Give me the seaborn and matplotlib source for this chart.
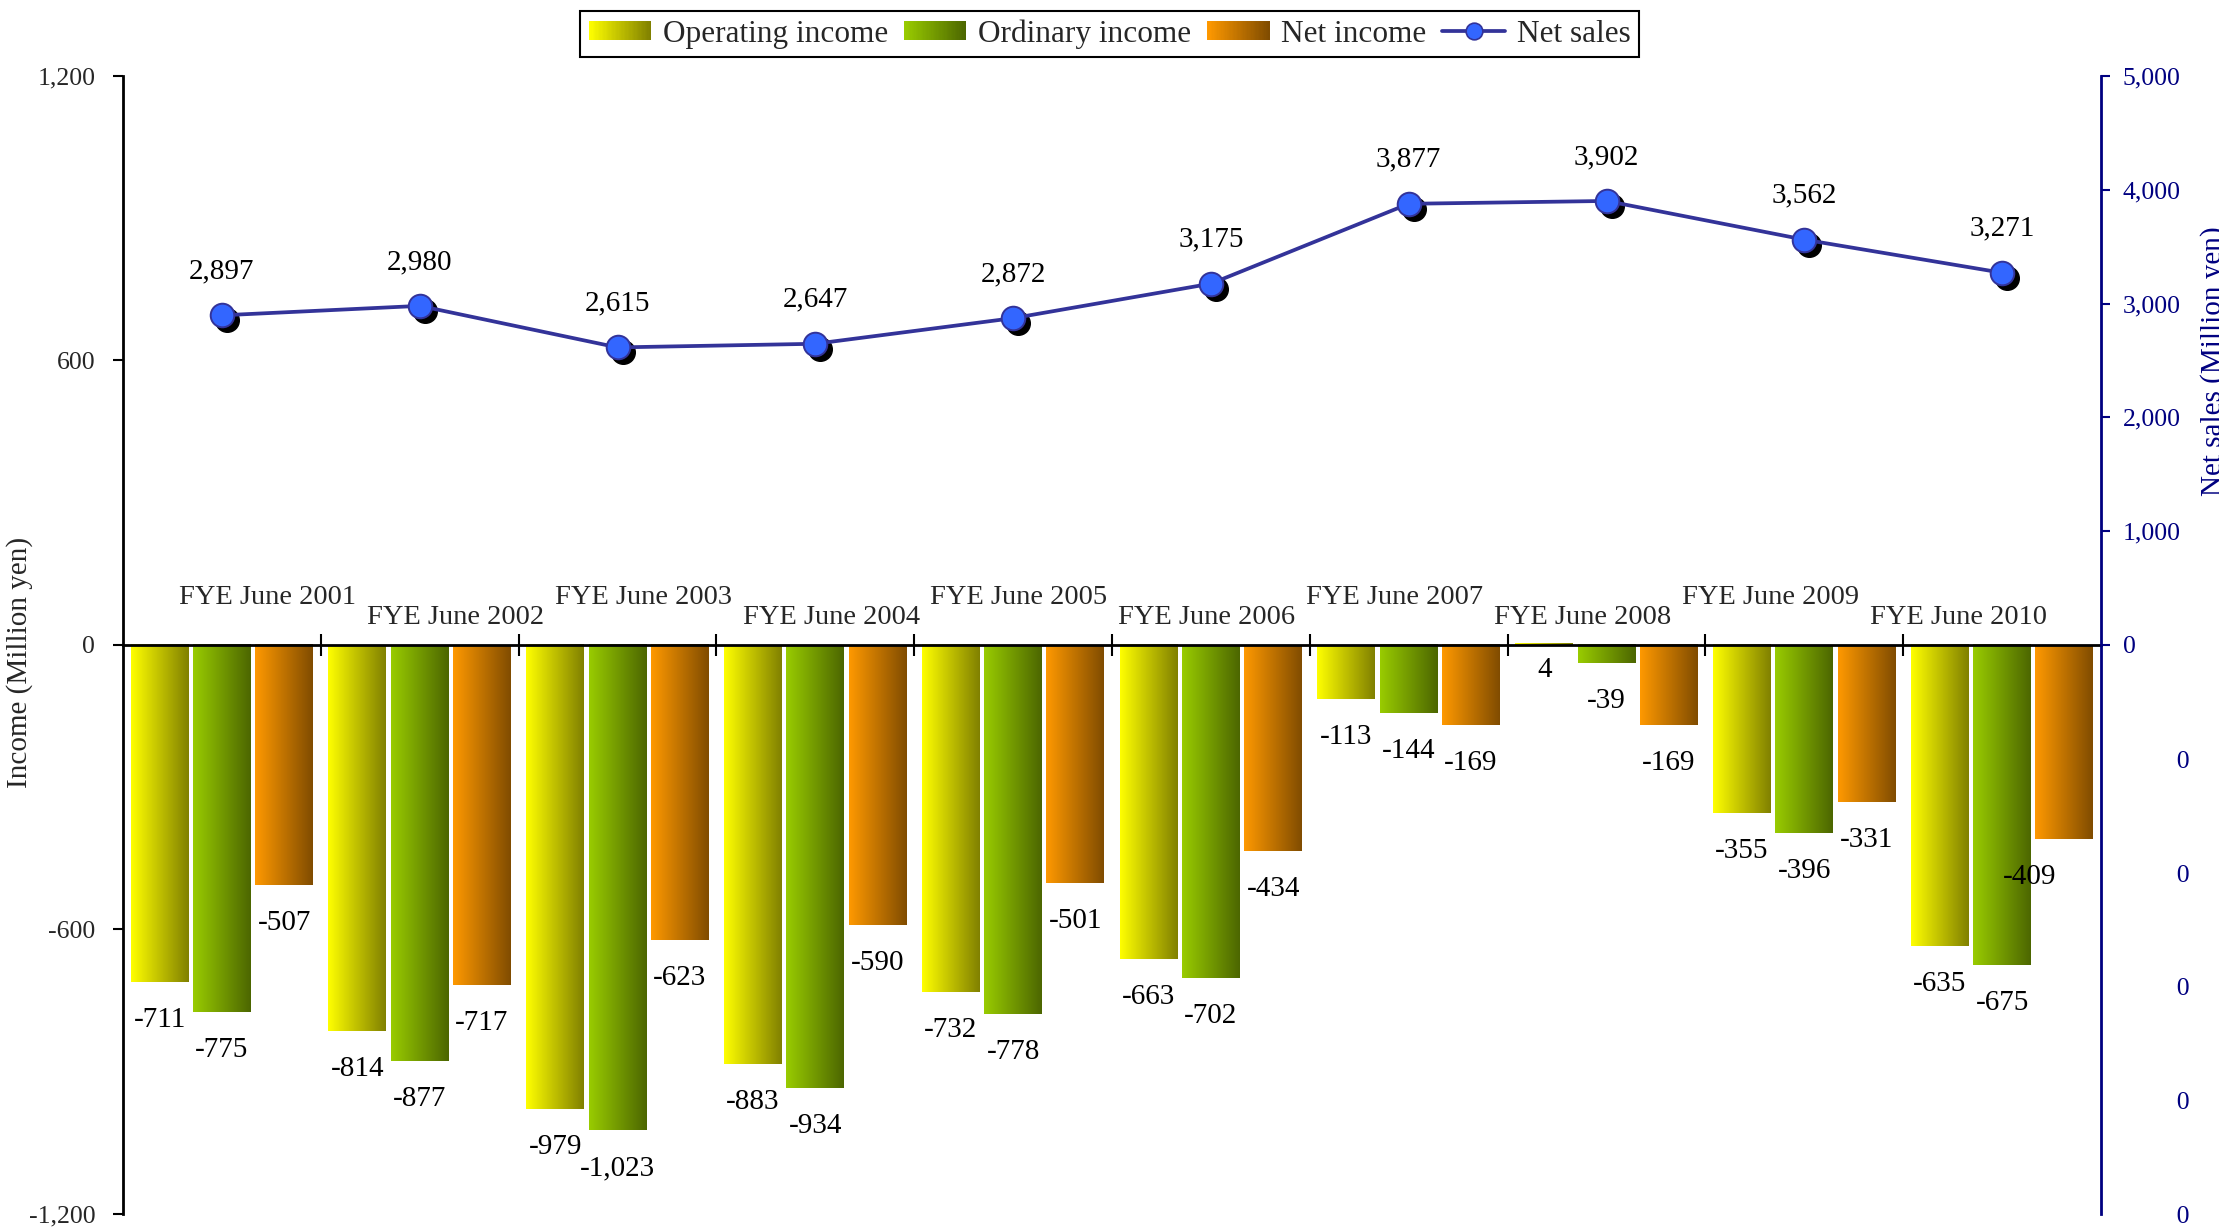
import numpy as np
import pandas as pd
import matplotlib
matplotlib.use("Agg")
import matplotlib.pyplot as plt
import seaborn as sns
from matplotlib.colors import LinearSegmentedColormap, to_rgb
from matplotlib.patches import Rectangle, Patch
from matplotlib.lines import Line2D
from matplotlib.legend_handler import HandlerBase
from matplotlib.transforms import ScaledTranslation, Bbox, TransformedBbox

# ---------------- data ----------------
years = ["FYE June 2001", "FYE June 2002", "FYE June 2003", "FYE June 2004",
         "FYE June 2005", "FYE June 2006", "FYE June 2007", "FYE June 2008",
         "FYE June 2009", "FYE June 2010"]
operating_income = [-711, -814, -979, -883, -732, -663, -113, 4, -355, -635]
ordinary_income = [-775, -877, -1023, -934, -778, -702, -144, -39, -396, -675]
net_income = [-507, -717, -623, -590, -501, -434, -169, -169, -331, -409]
net_sales = [2897, 2980, 2615, 2647, 2872, 3175, 3877, 3902, 3562, 3271]
series_names = ["Operating income", "Ordinary income", "Net income"]
line_name = "Net sales"
left_ticks = [-1200, -600, 0, 600, 1200]
right_ticks = [-5000, -4000, -3000, -2000, -1000, 0, 1000, 2000, 3000, 4000, 5000]

# gradient colours (left -> right) per series
grad_colors = [("#FFFF00", "#808000"), ("#99CC00", "#4C6600"), ("#FF9900", "#804C00")]
line_color = "#333399"
marker_color = "#3366FF"
navy = "#000080"

df = pd.DataFrame({
    "year": years * 3,
    "series": [s for s in series_names for _ in years],
    "value": operating_income + ordinary_income + net_income,
})

sns.set_style("ticks")
plt.rcParams["font.family"] = ["Liberation Serif", "DejaVu Serif"]

W, H = 2219, 1230
fig = plt.figure(figsize=(W / 100, H / 100), dpi=100)
L, R, T, B = 123, 2101, 76, 1214
ax = fig.add_axes([L / W, 1 - B / H, (R - L) / W, (B - T) / H])

sns.barplot(data=df, x="year", y="value", hue="series", order=years,
            hue_order=series_names, palette=[c[0] for c in grad_colors],
            width=0.945, gap=0.07, errorbar=None, legend=False, saturation=1,
            linewidth=0, ax=ax)

# gradient fill over each bar
grad = np.linspace(0, 1, 256)[None, :]
series_vals = [operating_income, ordinary_income, net_income]
for s_idx, (container, (c0, c1)) in enumerate(zip(ax.containers, grad_colors)):
    cmap = LinearSegmentedColormap.from_list(f"g{s_idx}", [c0, c1])
    for rect in container:
        x0, w = rect.get_x(), rect.get_width()
        y0, h = rect.get_y(), rect.get_height()
        ax.imshow(grad, cmap=cmap, extent=(x0, x0 + w, min(y0, y0 + h), max(y0, y0 + h)),
                  aspect="auto", interpolation="bilinear", zorder=rect.get_zorder() + 0.01)

ax.set_xlim(-0.5, len(years) - 0.5)
ax.set_ylim(-1200, 1200)

# bar value labels
for s_idx, (container, vals) in enumerate(zip(ax.containers, series_vals)):
    for i, (rect, v) in enumerate(zip(container, vals)):
        xc = rect.get_x() + rect.get_width() / 2
        ybase = v if v < 0 else 0
        dy = -45 if v < 0 else -32
        dx = -35 if (s_idx == 2 and i == len(vals) - 1) else 0
        ax.annotate(f"{v:,}", (xc, ybase), xytext=(dx, dy), textcoords="offset pixels",
                    ha="center", va="baseline", fontsize=21, color="black", zorder=6)

# spines / axes
ax.spines["top"].set_visible(False)
ax.spines["right"].set_visible(False)
ax.spines["bottom"].set_position(("data", 0))
ax.spines["bottom"].set_linewidth(2)
ax.spines["bottom"].set_color("black")
ax.spines["bottom"].set_zorder(7)
ax.spines["left"].set_linewidth(2)
ax.spines["left"].set_color("black")

ax.set_xticks(np.arange(len(years) - 1) + 0.5)
ax.set_xticklabels([])
ax.set_xlabel("")
ax.tick_params(axis="x", direction="inout", length=16, width=1.5, color="black", bottom=True)

# category labels (staggered, above the zero line)
for i, name in enumerate(years):
    ax.annotate(name, (0.23 + 0.95 * i, 0), xytext=(0, 41 if i % 2 == 0 else 21),
                textcoords="offset pixels", ha="center", va="baseline", fontsize=20.5)

ax.set_yticks(left_ticks)
ax.set_yticklabels([f"{v:,}" for v in left_ticks])
ax.tick_params(axis="y", direction="out", length=7, width=1.5, pad=13, labelsize=18.5,
               color="black", left=True)
ax.set_ylabel("Income (Million yen)", fontsize=21)
ax.yaxis.set_label_coords(-0.0455, 0.485)

# ---------------- net sales line (secondary axis) ----------------
ax2 = ax.twinx()
xpos = np.arange(len(years))
shadow = ScaledTranslation(0.05, -0.05, fig.dpi_scale_trans)
ax2.plot(xpos, net_sales, linestyle="none", marker="o", markersize=17, color="black",
         transform=ax2.transData + shadow, zorder=3)
sns.lineplot(x=xpos, y=net_sales, ax=ax2, color=line_color, linewidth=2.7, marker="o",
             markersize=17, markerfacecolor=marker_color, markeredgecolor=line_color,
             markeredgewidth=1.4, zorder=4)
ax2.set_ylim(-5000, 5000)
ax2.set_xlim(-0.5, len(years) - 0.5)
for i, v in enumerate(net_sales):
    ax2.annotate(f"{v:,}", (i, v), xytext=(0, 37), textcoords="offset pixels",
                 ha="center", va="baseline", fontsize=21, color="black")

for sp in ["left", "top", "bottom"]:
    ax2.spines[sp].set_visible(False)
ax2.spines["right"].set_color(navy)
ax2.spines["right"].set_linewidth(2)
ax2.set_yticks(right_ticks)
ax2.set_yticklabels([f"{v:,}" for v in right_ticks])
ax2.tick_params(axis="y", direction="out", length=6.5, width=1.5, pad=9, labelsize=18.5,
                color=navy, labelcolor=navy, right=True)
ax2.set_xlabel("")
ax2.set_ylabel("Net sales (Million yen)", fontsize=21, color=navy)
ax2.yaxis.set_label_coords(1.050, 0.749)


# ---------------- legend ----------------
class GradientHandler(HandlerBase):
    def __init__(self, c0, c1, n=48):
        super().__init__()
        self.c0 = np.array(to_rgb(c0))
        self.c1 = np.array(to_rgb(c1))
        self.n = n

    def create_artists(self, legend, orig_handle, xdescent, ydescent, width, height,
                       fontsize, trans):
        arts = []
        step = width / self.n
        for k in range(self.n):
            f = k / (self.n - 1)
            col = (1 - f) * self.c0 + f * self.c1
            arts.append(Rectangle((-xdescent + k * step, -ydescent), step * 1.06, height,
                                  facecolor=col, edgecolor="none", linewidth=0,
                                  transform=trans))
        return arts


bar_handles = [Patch(facecolor=c0) for c0, _ in grad_colors]
line_handle = Line2D([], [], color=line_color, linewidth=2.7, marker="o", markersize=12,
                     markerfacecolor=marker_color, markeredgecolor=line_color,
                     markeredgewidth=1.2)
handler_map = {h: GradientHandler(c0, c1) for h, (c0, c1) in zip(bar_handles, grad_colors)}
leg = fig.legend(bar_handles + [line_handle], series_names + [line_name],
                 handler_map=handler_map, loc="center", bbox_to_anchor=(0.5, 1 - 34 / H),
                 ncol=4, frameon=True, fancybox=False, edgecolor="black", fontsize=22.5,
                 handlelength=2.0, handleheight=0.58, handletextpad=0.38,
                 columnspacing=0.5, borderpad=0.27, framealpha=1)
leg.get_frame().set_linewidth(1.5)

# The reference's negative secondary-axis labels are cut so only their last digit shows
fig.canvas.draw()
clip = TransformedBbox(Bbox.from_extents(2176 / W, 0, 1, 1), fig.transFigure)
for t in ax2.yaxis.get_major_ticks():
    if t.get_loc() < 0:
        t.tick2line.set_visible(False)
        t.label2.set_clip_box(clip)
        t.label2.set_clip_on(True)

fig.savefig("out.png", dpi=100)
